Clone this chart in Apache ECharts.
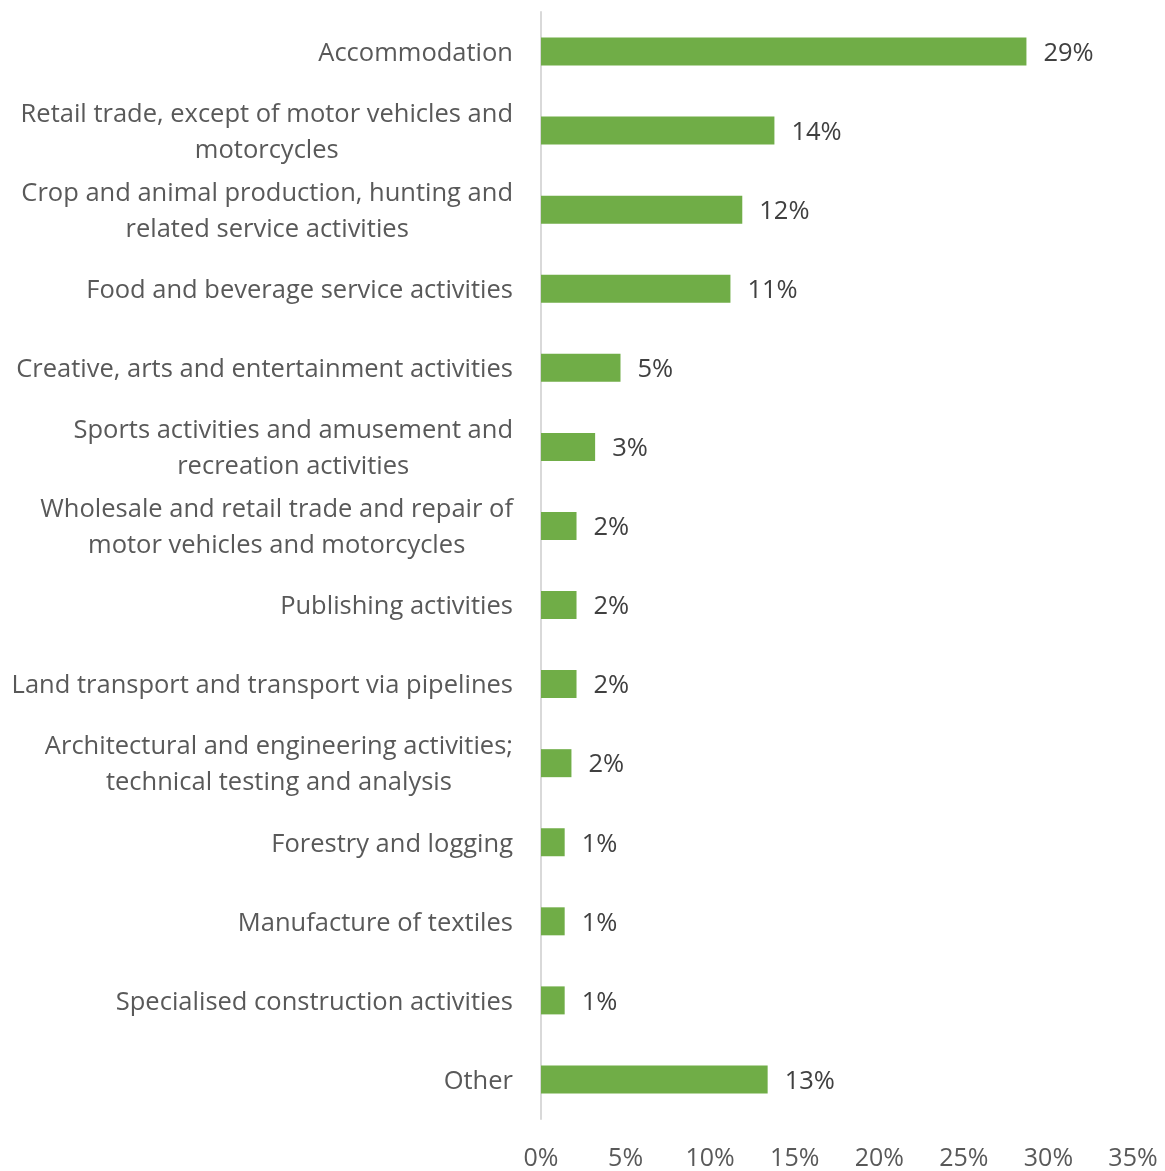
<!DOCTYPE html>
<html>
<head>
<meta charset="utf-8">
<script src="https://cdn.jsdelivr.net/npm/echarts@6/dist/echarts.min.js"></script>
<style>
  html, body { margin: 0; padding: 0; background: #ffffff; }
  #chart { width: 1165px; height: 1171px; }
</style>
</head>
<body>
<div id="chart"></div>
<script>
// Industry categories (top to bottom), wrapped where the label runs long
const categories = [
  'Accommodation',
  'Retail trade, except of motor vehicles and\nmotorcycles',
  'Crop and animal production, hunting and\nrelated service activities',
  'Food and beverage service activities',
  'Creative, arts and entertainment activities',
  'Sports activities and amusement and\nrecreation activities',
  'Wholesale and retail trade and repair of\nmotor vehicles and motorcycles',
  'Publishing activities',
  'Land transport and transport via pipelines',
  'Architectural and engineering activities;\ntechnical testing and analysis',
  'Forestry and logging',
  'Manufacture of textiles',
  'Specialised construction activities',
  'Other'
];

// Share of firms per industry, in percent
const shares = [28.7, 13.8, 11.9, 11.2, 4.7, 3.2, 2.1, 2.1, 2.1, 1.8, 1.4, 1.4, 1.4, 13.4];

// Value axis ticks
const axisMin = 0;
const axisMax = 35;
const axisStep = 5;

const fontFamily = '"Open Sans", "Noto Sans", sans-serif';
const chart = echarts.init(document.getElementById('chart'));

chart.setOption({
  animation: false,
  backgroundColor: '#ffffff',
  grid: { left: 541, right: 32, top: 12, bottom: 51, containLabel: false },
  xAxis: {
    type: 'value',
    min: axisMin,
    max: axisMax,
    interval: axisStep,
    axisLine: { show: false },
    axisTick: { show: false },
    splitLine: { show: false },
    axisLabel: {
      formatter: '{value}%',
      fontFamily: fontFamily,
      fontSize: 25,
      color: '#595959',
      margin: 27
    }
  },
  yAxis: {
    type: 'category',
    data: categories,
    inverse: true,
    axisTick: { show: false },
    axisLine: { show: true, lineStyle: { color: '#d9d9d9', width: 2 } },
    axisLabel: {
      margin: 28,
      align: 'right',
      padding: [4, 0, 0, 0],
      // each line is centred within the label block, the block sits right-aligned
      formatter: v => v.split('\n').map(line => '{c|' + line + '}').join('\n'),
      rich: {
        c: {
          align: 'center',
          fontFamily: fontFamily,
          fontSize: 25.5,
          lineHeight: 36,
          color: '#595959'
        }
      }
    }
  },
  series: [{
    type: 'bar',
    data: shares,
    barWidth: 28,
    itemStyle: { color: '#70ad47' },
    label: {
      show: true,
      position: 'right',
      distance: 17,
      offset: [0, 2],
      fontFamily: fontFamily,
      fontSize: 25.5,
      color: '#404040',
      formatter: p => Math.round(p.value) + '%'
    }
  }]
});
</script>
</body>
</html>
